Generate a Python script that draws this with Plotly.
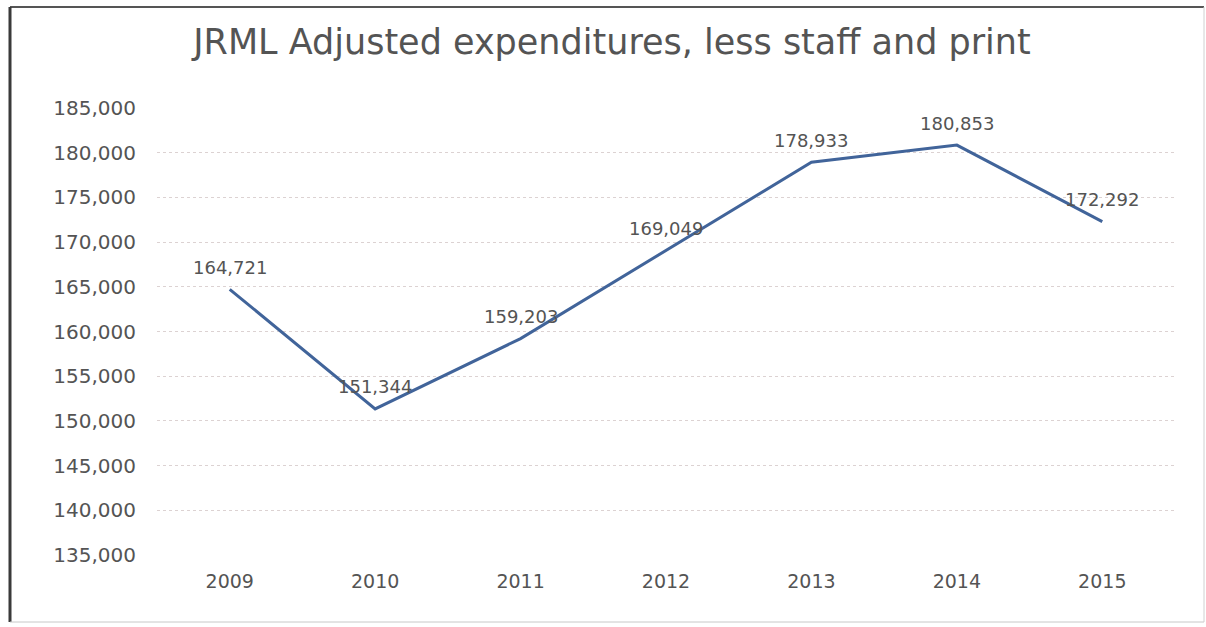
import plotly.graph_objects as go

# Adjusted expenditures by year (excluding staff and print)
years = ["2009", "2010", "2011", "2012", "2013", "2014", "2015"]
expenditures = [164721, 151344, 159203, 169049, 178933, 180853, 172292]
y_ticks = [135000, 140000, 145000, 150000, 155000, 160000, 165000,
           170000, 175000, 180000, 185000]

FONT = "DejaVu Sans"
TEXT = "#545454"
LINE = "#41649a"

W, H = 1206, 627
L, R, T, B = 157, 31, 108, 72
pw, ph = W - L - R, H - T - B


def px_x(p):
    return (p - L) / pw


def px_y(p):
    return (H - B - p) / ph


fig = go.Figure()
fig.add_trace(go.Scatter(
    x=years, y=expenditures, mode="lines",
    line=dict(color=LINE, width=3),
    hoverinfo="skip", showlegend=False,
))

# value labels above each point (category index used as x position)
for i, v in enumerate(expenditures):
    fig.add_annotation(
        x=i, y=v, xref="x", yref="y", text=f"{v:,}", showarrow=False,
        yshift=22, xanchor="center", yanchor="middle",
        font=dict(family=FONT, size=18, color=TEXT),
    )

# outer chart frame
frame = [
    (10, 7, 1204, 7, "#555555", 2),
    (10, 7, 10, 622, "#3a3a3a", 3),
    (10, 622, 1204, 622, "#c8c8c8", 1),
    (1204, 7, 1204, 622, "#d0d0d0", 1),
]
for x0, y0, x1, y1, c, w in frame:
    fig.add_shape(type="line", xref="paper", yref="paper",
                  x0=px_x(x0), y0=px_y(y0), x1=px_x(x1), y1=px_y(y1),
                  line=dict(color=c, width=w))

fig.update_layout(
    width=W, height=H,
    margin=dict(l=L, r=R, t=T, b=B),
    paper_bgcolor="white", plot_bgcolor="white",
    title=dict(text="JRML Adjusted expenditures, less staff and print",
               x=px_x(612), xref="paper", xanchor="center",
               y=1 - 42 / H, yanchor="middle",
               font=dict(family=FONT, size=35, color=TEXT)),
    font=dict(family=FONT, color=TEXT),
)
fig.update_xaxes(
    type="category", categoryorder="array", categoryarray=years,
    range=[-0.5, len(years) - 0.5], autorange=False,
    showgrid=False, zeroline=False, showline=False,
    ticks="outside", ticklen=9, tickcolor="rgba(0,0,0,0)",
    tickfont=dict(family=FONT, size=19, color=TEXT),
)
fig.update_yaxes(
    range=[135000, 185000], autorange=False, tickvals=y_ticks,
    ticktext=[f"{v:,}" for v in y_ticks],
    showgrid=True, gridcolor="#dcd2d2", griddash="dot", gridwidth=1,
    zeroline=False, showline=False,
    ticks="outside", ticklen=16, tickcolor="rgba(0,0,0,0)",
    tickfont=dict(family=FONT, size=20, color=TEXT),
)

fig.write_html("out.html")
